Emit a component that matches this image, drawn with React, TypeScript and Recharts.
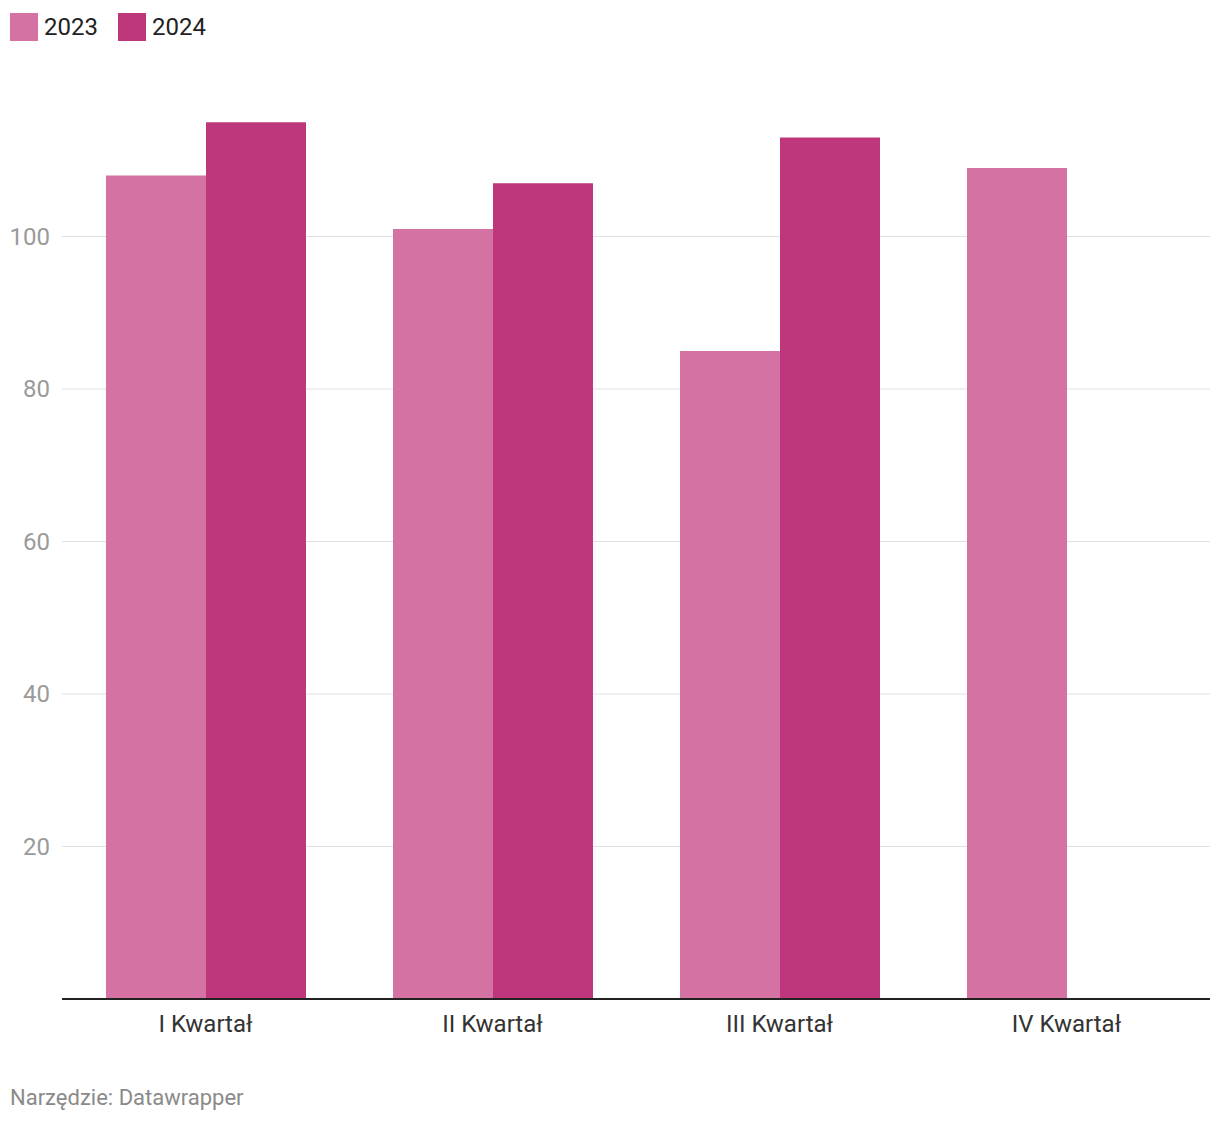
import React from "react";
import { BarChart, Bar, XAxis, YAxis, CartesianGrid, ReferenceLine } from "recharts";

const QUARTERS = ["I Kwartał", "II Kwartał", "III Kwartał", "IV Kwartał"];
const Y2023 = [108, 101, 85, 109];
const Y2024: (number | null)[] = [115, 107, 113, null];
const Y_TICKS = [20, 40, 60, 80, 100];

const COL_23 = "#d372a3";
const COL_24 = "#be377c";
const FONT = "Roboto, 'Noto Sans', sans-serif";

const data = QUARTERS.map((q, i) => ({ q, y2023: Y2023[i], y2024: Y2024[i] }));

const series = [
  { key: "y2023", name: "2023", color: COL_23 },
  { key: "y2024", name: "2024", color: COL_24 },
];

function YTick({ y, payload }: any) {
  return (
    <text x={50} y={y} dy={8} textAnchor="end" fontSize={24} fill="#9a9a9a" fontFamily={FONT}>
      {payload.value}
    </text>
  );
}

function XTick({ x, y, payload }: any) {
  return (
    <text x={x} y={y} dy={25} textAnchor="middle" fontSize={24} fill="#333" fontFamily={FONT}>
      {payload.value}
    </text>
  );
}

function LegendBox() {
  return (
    <div
      style={{
        position: "absolute",
        left: 10,
        top: 13,
        display: "flex",
        alignItems: "center",
        fontFamily: FONT,
        fontSize: 24,
        color: "#222",
      }}
    >
      {series.map((s) => (
        <span key={s.key} style={{ display: "flex", alignItems: "center", marginRight: 20 }}>
          <span style={{ display: "inline-block", width: 28, height: 28, background: s.color, marginRight: 6 }} />
          {s.name}
        </span>
      ))}
    </div>
  );
}

export default function App() {
  return (
    <div style={{ position: "absolute", left: 0, top: 0, width: 1220, height: 1122, background: "#fff" }}>
      <LegendBox />
      <BarChart
        width={1220}
        height={1122}
        data={data}
        margin={{ top: 84, right: 10, bottom: 83, left: 0 }}
        barCategoryGap={44}
        barGap={0}
      >
        <CartesianGrid vertical={false} stroke="#e0e0e0" horizontalValues={Y_TICKS} />
        <YAxis
          width={62}
          domain={[0, 120]}
          ticks={Y_TICKS}
          axisLine={false}
          tickLine={false}
          tick={<YTick />}
          allowDataOverflow
        />
        <XAxis dataKey="q" height={40} axisLine={false} tickLine={false} tick={<XTick />} interval={0} />
        {series.map((s) => (
          <Bar key={s.key} dataKey={s.key} name={s.name} fill={s.color} isAnimationActive={false} />
        ))}
        <ReferenceLine y={0} stroke="#222" strokeWidth={2} />
      </BarChart>
      <div
        style={{
          position: "absolute",
          left: 10,
          top: 1085,
          fontFamily: FONT,
          fontSize: 22,
          color: "#8a8a8a",
        }}
      >
        Narzędzie: Datawrapper
      </div>
    </div>
  );
}
